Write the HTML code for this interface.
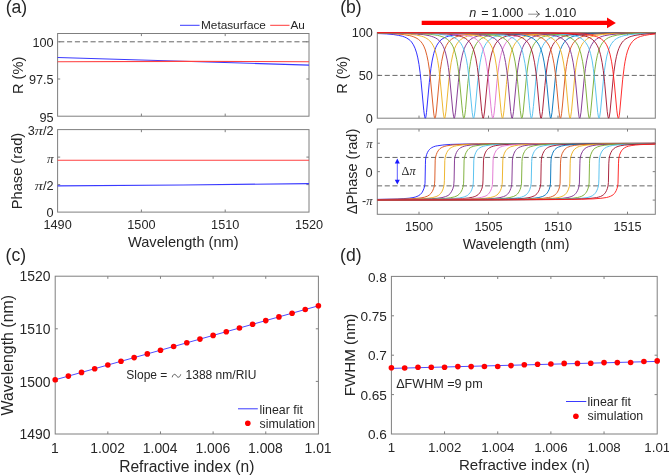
<!DOCTYPE html><html><head><meta charset="utf-8"><style>html,body{margin:0;padding:0;background:#fff;}svg{display:block;filter:blur(0.35px)}</style></head><body>
<svg width="669" height="476" viewBox="0 0 669 476">
<rect width="669" height="476" fill="#fff"/>
<text x="16.4" y="13.2" font-size="17.6" text-anchor="middle" fill="#262626" font-family='"Liberation Sans", sans-serif' >(a)</text>
<line x1="180" y1="25.3" x2="199.6" y2="25.3" stroke="#3a3aff" stroke-width="1"/>
<text x="201" y="29.3" font-size="11.8" text-anchor="start" fill="#262626" font-family='"Liberation Sans", sans-serif' >Metasurface</text>
<line x1="270.2" y1="25.3" x2="289.5" y2="25.3" stroke="#ff3a3a" stroke-width="1"/>
<text x="290.5" y="29.3" font-size="11.8" text-anchor="start" fill="#262626" font-family='"Liberation Sans", sans-serif' >Au</text>
<path d="M141.4,116.2 v-2.6 M141.4,33.5 v2.6" stroke="#7f7f7f" stroke-width="1" fill="none"/>
<path d="M225.2,116.2 v-2.6 M225.2,33.5 v2.6" stroke="#7f7f7f" stroke-width="1" fill="none"/>
<path d="M57.6,79 h2.6 M309,79 h-2.6" stroke="#7f7f7f" stroke-width="1" fill="none"/>
<path d="M57.6,41.8 h2.6 M309,41.8 h-2.6" stroke="#7f7f7f" stroke-width="1" fill="none"/>
<rect x="57.6" y="33.5" width="251.4" height="82.7" fill="none" stroke="#7f7f7f" stroke-width="1"/>
<line x1="57.6" y1="41.8" x2="309" y2="41.8" stroke="#666" stroke-width="1" stroke-dasharray="5.1 2.74" stroke-dashoffset="-1.6"/>
<path d="M57.6,57.5 309,65.1" fill="none" stroke="#3a3aff" stroke-width="1.1" stroke-linejoin="round" />
<path d="M57.6,61.7 183.3,61.4 249,61.5 309,61.8" fill="none" stroke="#ff4040" stroke-width="1.1" stroke-linejoin="round" />
<text x="53.6" y="47.15" font-size="12.7" text-anchor="end" fill="#262626" font-family='"Liberation Sans", sans-serif' >100</text>
<text x="53.6" y="84.35" font-size="12.7" text-anchor="end" fill="#262626" font-family='"Liberation Sans", sans-serif' >97.5</text>
<text x="53.6" y="121.55" font-size="12.7" text-anchor="end" fill="#262626" font-family='"Liberation Sans", sans-serif' >95</text>
<text x="0" y="0" font-size="14.6" text-anchor="middle" fill="#262626" font-family='"Liberation Sans", sans-serif' transform="translate(22.5,75.4) rotate(-90)">R (%)</text>
<path d="M141.4,212.1 v-2.6 M141.4,129.6 v2.6" stroke="#7f7f7f" stroke-width="1" fill="none"/>
<path d="M225.2,212.1 v-2.6 M225.2,129.6 v2.6" stroke="#7f7f7f" stroke-width="1" fill="none"/>
<path d="M57.6,184.6 h2.6 M309,184.6 h-2.6" stroke="#7f7f7f" stroke-width="1" fill="none"/>
<path d="M57.6,157.1 h2.6 M309,157.1 h-2.6" stroke="#7f7f7f" stroke-width="1" fill="none"/>
<rect x="57.6" y="129.6" width="251.4" height="82.5" fill="none" stroke="#7f7f7f" stroke-width="1"/>
<path d="M57.6,160.3 309,160.3" fill="none" stroke="#ff4040" stroke-width="1.1" stroke-linejoin="round" />
<path d="M57.6,185.9 183.3,185 309,183.6" fill="none" stroke="#3a3aff" stroke-width="1.1" stroke-linejoin="round" />
<text x="43.01" y="134.95" font-size="12.7" text-anchor="start" fill="#262626" font-family='"Liberation Sans", sans-serif' >/2</text>
<text x="0" y="0" font-size="12.7" fill="#333" font-family='"Liberation Serif", serif' font-style="italic" transform="translate(34.74,134.95) scale(1.3,1)">&#960;</text>
<text x="27.67" y="134.95" font-size="12.7" text-anchor="start" fill="#262626" font-family='"Liberation Sans", sans-serif' >3</text>
<text x="0" y="0" font-size="12.7" fill="#333" font-family='"Liberation Serif", serif' font-style="italic" transform="translate(46.92,162.75) scale(1.05,1)">&#960;</text>
<text x="43.01" y="189.95" font-size="12.7" text-anchor="start" fill="#262626" font-family='"Liberation Sans", sans-serif' >/2</text>
<text x="0" y="0" font-size="12.7" fill="#333" font-family='"Liberation Serif", serif' font-style="italic" transform="translate(34.74,189.95) scale(1.3,1)">&#960;</text>
<text x="53.6" y="217.45" font-size="12.7" text-anchor="end" fill="#262626" font-family='"Liberation Sans", sans-serif' >0</text>
<text x="0" y="0" font-size="14.6" text-anchor="middle" fill="#262626" font-family='"Liberation Sans", sans-serif' transform="translate(21.7,171) rotate(-90)">Phase (rad)</text>
<text x="57.6" y="228.6" font-size="12.7" text-anchor="middle" fill="#262626" font-family='"Liberation Sans", sans-serif' >1490</text>
<text x="141.4" y="228.6" font-size="12.7" text-anchor="middle" fill="#262626" font-family='"Liberation Sans", sans-serif' >1500</text>
<text x="225.2" y="228.6" font-size="12.7" text-anchor="middle" fill="#262626" font-family='"Liberation Sans", sans-serif' >1510</text>
<text x="309" y="228.6" font-size="12.7" text-anchor="middle" fill="#262626" font-family='"Liberation Sans", sans-serif' >1520</text>
<text x="183.3" y="246.6" font-size="14.6" text-anchor="middle" fill="#262626" font-family='"Liberation Sans", sans-serif' >Wavelength (nm)</text>
<text x="350.9" y="13.1" font-size="17.6" text-anchor="middle" fill="#262626" font-family='"Liberation Sans", sans-serif' >(b)</text>
<line x1="421.7" y1="22.9" x2="608" y2="22.9" stroke="#ff0000" stroke-width="4.2"/>
<path d="M607,17.6 L615.9,22.9 L607,28.2 Z" fill="#ff0000"/>
<text x="469.3" y="17.3" font-size="12.7" text-anchor="start" fill="#262626" font-family='"Liberation Sans", sans-serif' ><tspan font-style="italic">n</tspan></text>
<text x="481.2" y="17.3" font-size="12.7" text-anchor="start" fill="#262626" font-family='"Liberation Sans", sans-serif' >=</text>
<text x="491.6" y="17.3" font-size="12.7" text-anchor="start" fill="#262626" font-family='"Liberation Sans", sans-serif' >1.000</text>
<text x="544.6" y="17.3" font-size="12.7" text-anchor="start" fill="#262626" font-family='"Liberation Sans", sans-serif' >1.010</text>
<path d="M528.2,14.2 H539" stroke="#999" stroke-width="1.1" fill="none"/>
<path d="M536.3,10.8 Q537.3,13.4 539.6,14.2 Q537.3,15 536.3,17.3" stroke="#444" stroke-width="0.9" fill="none"/>
<path d="M419,118.2 v-2.6 M419,32.6 v2.6" stroke="#7f7f7f" stroke-width="1" fill="none"/>
<path d="M488.5,118.2 v-2.6 M488.5,32.6 v2.6" stroke="#7f7f7f" stroke-width="1" fill="none"/>
<path d="M558,118.2 v-2.6 M558,32.6 v2.6" stroke="#7f7f7f" stroke-width="1" fill="none"/>
<path d="M627.5,118.2 v-2.6 M627.5,32.6 v2.6" stroke="#7f7f7f" stroke-width="1" fill="none"/>
<path d="M377.3,75.4 h2.6 M655.3,75.4 h-2.6" stroke="#7f7f7f" stroke-width="1" fill="none"/>
<rect x="377.3" y="32.6" width="278" height="85.6" fill="none" stroke="#7f7f7f" stroke-width="1"/>
<line x1="377.3" y1="75.4" x2="655.3" y2="75.4" stroke="#666" stroke-width="1" stroke-dasharray="5.1 2.62" stroke-dashoffset="0.3"/>
<path d="M377.3,33.5 386.4,33.9 393.2,34.5 398.3,35.3 402.7,36.3 404.7,37.1 406.3,37.8 409.1,39.6 410.3,40.6 411.5,41.9 413.4,44.8 415,48.2 416.6,52.9 417.8,57.9 419,64.5 420.2,73.3 421,80.6 423.8,110.7 424.6,116.5 425,117.9 425.3,118.2 425.8,117.3 426.5,112.5 429.3,82.6 430.9,68.6 432.1,61 433.7,53.7 434.5,51 435.7,47.7 436.9,45.2 438.5,42.7 440,40.8 442,39.1 444,37.9 446.4,36.8 448.8,36.1 452,35.3 455.1,34.8 459.1,34.3 469,33.6 483.3,33.2 503.2,32.9 533,32.8 655.3,32.6" fill="none" stroke="#1f1fff" stroke-width="0.92" stroke-linejoin="round" />
<path d="M377.3,33.2 388.8,33.5 397.6,34 404.3,34.7 409.5,35.6 411.9,36.2 413.8,36.9 417,38.4 418.6,39.5 419.8,40.5 421,41.8 422.2,43.3 423.8,46.1 425.4,50 426.9,55.6 428.1,61.4 429.3,69.2 430.1,75.7 433.7,113.1 434.1,115.8 434.5,117.6 434.9,118.2 435.3,117.7 435.7,116.1 436.5,110 438.9,83.9 440.4,69.5 441.6,61.7 443.2,54.1 444,51.3 445.2,48 446.4,45.4 448,42.8 449.6,40.9 451.6,39.2 453.6,38 455.9,36.9 458.3,36.1 461.1,35.4 464.3,34.8 468.2,34.4 477.8,33.7 491.7,33.2 510.7,32.9 539.3,32.8 655.3,32.6" fill="none" stroke="#d95319" stroke-width="0.92" stroke-linejoin="round" />
<path d="M377.3,33 391.6,33.3 402.3,33.7 410.3,34.3 416.6,35.1 421.4,36.2 423.4,36.8 425.4,37.7 426.9,38.6 428.5,39.7 429.7,40.8 430.9,42.1 432.9,45.1 434.1,47.6 434.9,49.6 436.5,55.1 437.7,60.7 438.9,68.3 440,78.2 443.2,112.1 444,117.1 444.4,118.1 444.6,118.2 444.8,118 445.2,116.7 446,111.2 448.8,81 450,70.5 451.2,62.4 452.8,54.6 453.6,51.7 454.7,48.3 455.9,45.7 457.5,43 459.1,41.1 460.7,39.6 462.7,38.3 465.1,37.1 467.5,36.2 470.2,35.5 473.4,34.9 477,34.5 486.5,33.7 499.6,33.3 517.9,33 545.3,32.8 655.3,32.6" fill="none" stroke="#edb120" stroke-width="0.92" stroke-linejoin="round" />
<path d="M377.3,32.9 394.8,33.2 407.5,33.5 416.6,34 423.8,34.7 429.3,35.7 431.7,36.4 433.7,37.1 435.7,38 437.3,39 438.9,40.3 440,41.5 442,44.2 443.2,46.4 444,48.3 445.6,53.1 447.2,60.1 448.4,67.4 449.6,77.1 452.8,111 453.6,116.6 453.9,117.9 454.2,118.2 454.3,118.1 454.7,117.2 455.5,112.2 458.3,82.3 459.5,71.4 460.7,63.1 462.3,55.1 463.1,52.1 464.3,48.6 465.5,45.9 467.1,43.2 468.6,41.2 470.2,39.7 472.2,38.3 474.6,37.1 477,36.3 479.8,35.5 482.9,34.9 486.5,34.5 495.6,33.7 508.4,33.3 525.8,33 552,32.8 655.3,32.6" fill="none" stroke="#7e2f8e" stroke-width="0.92" stroke-linejoin="round" />
<path d="M377.3,32.9 397.6,33.1 412.2,33.3 423,33.8 430.9,34.4 437.3,35.3 439.7,35.9 442,36.6 444,37.4 445.6,38.2 447.2,39.2 448.8,40.5 450.4,42.3 451.6,44 452.8,46.2 453.6,48 455.1,52.6 456.7,59.4 457.9,66.6 459.1,76 461.9,105.9 462.7,113.3 463.1,116 463.5,117.6 463.9,118.2 464.3,117.6 464.7,115.9 465.5,109.7 467.8,83.5 469.4,69.3 470.6,61.5 471.8,55.6 472.6,52.6 473.8,48.9 475,46.1 476.6,43.4 478.2,41.3 479.8,39.8 481.7,38.4 483.7,37.4 486.1,36.4 488.5,35.8 491.7,35.1 495.3,34.6 504,33.8 516.3,33.3 533,33 558,32.8 655.3,32.7" fill="none" stroke="#77ac30" stroke-width="0.92" stroke-linejoin="round" />
<path d="M377.3,32.8 401.1,33 417.8,33.2 429.7,33.6 438.5,34.2 445.2,35 448,35.5 450.4,36.2 452.8,37 454.7,37.9 456.3,38.8 457.9,40.1 459.5,41.7 460.7,43.2 461.9,45.2 462.7,46.8 463.9,49.7 464.7,52.2 466.3,58.8 467.5,65.7 468.6,74.9 472.2,112.4 473,117.2 473.5,118.2 473.8,117.9 474.2,116.5 475,110.9 477.8,80.7 479,70.2 480.2,62.2 481.7,54.5 482.5,51.6 483.7,48.2 484.9,45.6 486.1,43.5 487.7,41.5 489.3,39.9 491.3,38.5 493.3,37.4 495.6,36.5 498,35.8 500.8,35.2 504.4,34.6 512.7,33.9 524.6,33.4 540.5,33 564,32.8 655.3,32.7" fill="none" stroke="#4dbeee" stroke-width="0.92" stroke-linejoin="round" />
<path d="M377.3,32.8 423.4,33.2 436.9,33.5 446.4,34 453.6,34.8 459.1,35.9 461.5,36.6 463.5,37.4 465.5,38.5 467.1,39.6 468.6,41.1 469.8,42.5 471,44.3 472.2,46.5 473.4,49.4 474.2,51.8 475.8,58.2 477.4,67.6 478.6,77.4 481.7,111.3 482.5,116.7 482.9,118 483.2,118.2 483.3,118.1 483.7,117.1 484.5,112 487.3,82 488.5,71.2 489.7,62.9 491.3,55 492.1,52 493.3,48.5 494.5,45.8 495.6,43.7 496.8,42.1 498.4,40.4 500.4,38.8 502.4,37.7 504.8,36.7 507.2,35.9 509.9,35.3 513.1,34.8 521.5,33.9 532.6,33.4 547.7,33.1 569.9,32.9 655.3,32.7" fill="none" stroke="#a2142f" stroke-width="0.92" stroke-linejoin="round" />
<path d="M377.3,32.7 428.9,33.1 443.6,33.4 453.9,33.9 461.9,34.6 467.8,35.7 470.2,36.3 472.6,37.2 474.6,38.2 476.2,39.2 477.8,40.6 479.4,42.3 480.6,44.1 481.7,46.2 482.9,49 483.7,51.4 485.3,57.6 486.9,66.8 488.1,76.3 490.9,106.2 491.7,113.6 492.1,116.1 492.5,117.7 492.8,118.2 493.3,117.5 493.7,115.7 494.1,113 494.9,105.4 496.8,83.2 498,72.2 499.2,63.7 500.8,55.5 501.6,52.5 502.8,48.8 504,46.1 505.2,43.9 506.4,42.2 508,40.5 509.5,39.2 511.5,37.9 513.5,37 515.9,36.2 518.7,35.5 521.9,34.9 529.4,34.1 540.1,33.5 554.4,33.1 575.5,32.9 655.3,32.7" fill="none" stroke="#e070d0" stroke-width="0.92" stroke-linejoin="round" />
<path d="M377.3,32.7 434.1,33 450,33.3 461.5,33.8 470.2,34.5 476.6,35.5 479,36.1 481.4,36.8 483.3,37.7 485.3,38.9 486.9,40.1 488.5,41.7 489.7,43.3 490.9,45.2 492.1,47.7 492.9,49.8 494.1,53.7 494.9,57 496.4,65.9 497.6,75.2 501.2,112.6 502,117.4 502.5,118.2 502.8,117.8 503.2,116.4 504,110.6 506.4,84.5 508,70 509.2,62 510.3,56 511.1,52.9 512.3,49.2 513.5,46.3 514.7,44.1 515.9,42.4 517.5,40.6 519.1,39.3 521.1,38 523.1,37.1 525.4,36.2 528.2,35.5 531,35 538.5,34.1 548.5,33.5 562.4,33.2 581.8,32.9 655.3,32.7" fill="none" stroke="#edb120" stroke-width="0.92" stroke-linejoin="round" />
<path d="M377.3,32.7 440,33 457.1,33.3 469.4,33.7 478.6,34.3 485.3,35.3 488.1,35.9 490.5,36.6 492.5,37.5 494.5,38.5 496,39.7 497.6,41.1 499.2,43.1 500.4,45 501.6,47.4 502.4,49.5 503.6,53.3 504.4,56.5 505.6,62.6 506.8,70.8 508,81.5 510.7,111.6 511.5,116.9 511.9,118 512.1,118.2 512.3,118.1 512.7,116.9 513.5,111.7 516.3,81.7 517.5,70.9 518.7,62.7 519.9,56.6 520.7,53.3 521.9,49.5 522.7,47.5 523.8,45 525,43.1 526.6,41.1 528.2,39.7 530.2,38.3 532.2,37.3 534.2,36.5 537,35.7 539.7,35.1 546.9,34.2 556.4,33.6 569.5,33.2 587.8,32.9 655.3,32.7" fill="none" stroke="#7e2f8e" stroke-width="0.92" stroke-linejoin="round" />
<path d="M377.3,32.7 445.6,32.9 463.9,33.2 477,33.6 486.9,34.2 494.1,35.1 496.8,35.7 499.6,36.5 501.6,37.2 503.6,38.2 505.6,39.6 507.2,41 508.8,42.9 509.9,44.8 511.1,47.2 511.9,49.1 513.1,52.8 513.9,56 515.1,61.9 516.3,69.9 517.9,84.3 520.3,110.5 521.1,116.3 521.5,117.8 521.8,118.2 522.3,117.4 523.1,112.7 526.6,75.3 527.8,66 529.4,57.1 530.2,53.8 531.4,49.9 532.2,47.8 533.4,45.2 534.6,43.3 536.2,41.3 537.7,39.8 539.3,38.6 541.3,37.5 543.3,36.7 545.7,36 548.5,35.3 555.2,34.3 564.4,33.7 576.3,33.3 593.3,33 655.3,32.7" fill="none" stroke="#77ac30" stroke-width="0.92" stroke-linejoin="round" />
<path d="M377.3,32.7 451.6,32.9 471.4,33.1 485.3,33.5 495.6,34.1 503.2,35 506,35.6 508.8,36.3 511.1,37.2 513.1,38.1 515.1,39.5 516.7,40.9 518.3,42.7 519.5,44.6 520.7,46.9 521.5,48.8 522.7,52.4 523.4,55.4 525,63.6 526.2,72.1 527.4,83.1 529.4,105.2 530.2,112.9 530.6,115.6 531,117.5 531.4,118.2 531.8,117.8 532.2,116.2 532.6,113.7 533.4,106.4 536.2,76.4 537.3,66.9 538.9,57.7 539.7,54.3 540.9,50.2 541.7,48.1 542.9,45.5 544.1,43.5 545.3,41.9 546.9,40.2 548.5,39 550.5,37.8 552.4,36.9 554.8,36.1 557.2,35.5 563.6,34.5 571.9,33.8 583,33.3 598.9,33 655.3,32.7" fill="none" stroke="#4dbeee" stroke-width="0.92" stroke-linejoin="round" />
<path d="M377.3,32.7 457.5,32.9 478.6,33.1 493.3,33.5 504,34 511.9,34.9 515.1,35.5 517.9,36.1 520.3,37 522.3,37.9 524.2,39.1 525.8,40.4 527.4,42.1 528.6,43.7 529.8,45.8 531,48.5 532.2,52 533,54.9 534.6,62.8 535.8,71.1 537,81.8 539.7,111.8 540.5,117 540.9,118.1 541.1,118.2 541.3,118 541.7,116.8 542.5,111.4 544.9,85.5 546.1,74 547.3,65 548.5,58.3 550.1,51.8 550.9,49.4 552,46.5 553.2,44.3 554.4,42.5 556,40.7 557.6,39.3 559.2,38.3 561.2,37.3 563.6,36.4 565.9,35.7 568.7,35.1 571.9,34.6 579.8,33.9 590.2,33.4 604.9,33.1 655.3,32.8" fill="none" stroke="#a2142f" stroke-width="0.92" stroke-linejoin="round" />
<path d="M377.3,32.7 463.5,32.9 485.7,33.1 501.2,33.4 512.3,33.9 520.7,34.7 523.8,35.3 526.6,35.9 529,36.6 531.4,37.6 533.4,38.7 535.4,40.3 537,41.9 538.5,44.2 539.7,46.4 540.9,49.2 542.1,52.9 542.9,56.1 544.1,62.1 545.3,70.1 546.9,84.7 549.3,110.8 550.1,116.5 550.5,117.9 550.8,118.2 551.2,117.3 552,112.5 555.6,75 556.8,65.8 558,58.9 559.6,52.2 560.4,49.8 561.6,46.8 562.8,44.5 564,42.7 565.1,41.2 566.7,39.7 568.3,38.6 569.9,37.7 571.9,36.8 574.3,36.1 577.1,35.4 579.8,34.9 587.4,34.1 596.9,33.5 610,33.2 655.3,32.8" fill="none" stroke="#0072bd" stroke-width="0.92" stroke-linejoin="round" />
<path d="M377.3,32.7 469.8,32.8 493.3,33 509.5,33.4 521.5,33.9 529.8,34.7 533.4,35.2 536.2,35.9 538.5,36.6 540.9,37.5 542.9,38.6 544.9,40.1 546.5,41.8 548.1,44 549.3,46.1 550.5,48.9 551.6,52.5 552.4,55.6 554,63.8 555.2,72.3 556.4,83.4 558.8,109.6 559.6,115.8 560,117.6 560.4,118.2 560.8,117.7 561.2,116.1 561.6,113.4 562.4,106 565.1,76.1 566.3,66.6 567.5,59.5 569.1,52.7 569.9,50.1 571.1,47.1 571.9,45.4 573.1,43.4 574.3,41.8 575.9,40.2 577.5,38.9 579,38 581,37 583,36.3 585.4,35.7 588.2,35.1 594.9,34.2 603.7,33.7 615.6,33.2 631.9,33 655.3,32.8" fill="none" stroke="#d95319" stroke-width="0.92" stroke-linejoin="round" />
<path d="M377.3,32.7 475.8,32.8 500.4,33 517.5,33.3 529.8,33.8 538.5,34.6 542.1,35.1 545.3,35.7 547.7,36.4 550.1,37.3 552,38.3 554,39.7 555.6,41.2 557.2,43.2 558.8,45.9 560,48.6 561.2,52.1 562,55.1 563.6,63 564.8,71.3 565.9,82.1 568.7,112.1 569.5,117.1 569.9,118.1 570.1,118.2 570.3,118 570.7,116.7 571.5,111.2 574.7,77.2 575.9,67.5 577.1,60.1 578.7,53.1 580.2,48.3 581,46.5 582.2,44.2 583.4,42.5 585,40.7 586.6,39.3 588.2,38.3 589.8,37.4 591.8,36.6 594.1,35.9 596.5,35.4 602.5,34.5 610.4,33.8 620.7,33.4 635,33.1 655.3,32.9" fill="none" stroke="#edb120" stroke-width="0.92" stroke-linejoin="round" />
<path d="M377.3,32.6 481.7,32.8 508,33 525.4,33.3 538.1,33.7 547.3,34.5 550.9,34.9 554,35.5 556.8,36.2 559.2,37.1 561.6,38.3 563.6,39.6 565.1,41.1 566.7,43 568.3,45.6 569.5,48.3 570.7,51.7 571.5,54.6 573.1,62.3 574.3,70.4 575.5,80.9 578.3,111 579,116.6 579.4,117.9 579.7,118.2 579.8,118.1 580.2,117.2 581,112.2 584.2,78.4 585.4,68.4 586.6,60.8 588.2,53.6 589.8,48.6 590.6,46.7 591.8,44.4 593.7,41.6 594.9,40.4 596.5,39.1 598.1,38.1 600.1,37.1 602.1,36.4 604.5,35.7 609.6,34.8 616.8,34 625.9,33.5 638.2,33.2 655.3,32.9" fill="none" stroke="#7e2f8e" stroke-width="0.92" stroke-linejoin="round" />
<path d="M377.3,32.6 488.1,32.8 515.5,33 533.8,33.2 546.9,33.7 556.4,34.4 560.4,34.9 563.6,35.5 566.3,36.2 568.7,37 571.1,38.2 573.1,39.5 574.7,40.9 576.3,42.8 577.9,45.4 579,48 580.2,51.3 581,54.1 582.6,61.6 583.8,69.4 585.4,83.7 587.8,109.9 588.6,116 589,117.6 589.4,118.2 589.8,117.6 590.2,115.9 590.6,113.2 594.1,75.8 594.9,69.3 596.1,61.5 597.3,55.6 598.9,50 599.7,47.9 600.9,45.4 601.7,44 602.9,42.3 604.1,40.9 605.3,39.8 606.8,38.7 608.4,37.7 610.4,36.9 612.4,36.2 617.2,35.1 623.1,34.3 631.1,33.7 641.4,33.3 655.3,33.1" fill="none" stroke="#77ac30" stroke-width="0.92" stroke-linejoin="round" />
<path d="M377.3,32.6 494.1,32.8 522.7,32.9 541.7,33.2 555.6,33.6 565.5,34.3 569.5,34.8 572.7,35.4 575.5,36 577.9,36.8 580.2,37.9 582.2,39.1 584.2,40.8 585.8,42.7 587.4,45.2 588.6,47.7 589.8,50.9 590.6,53.6 592.2,60.9 593.3,68.5 594.9,82.4 597.7,112.4 598.5,117.3 599,118.2 599.3,117.9 599.7,116.5 600.5,110.9 603.7,76.9 604.5,70.2 605.7,62.2 606.8,56.1 608.4,50.4 610,46.4 611.6,43.5 613.6,41 614.8,39.9 616.4,38.7 618,37.8 619.6,37.1 621.5,36.4 623.9,35.7 629.1,34.7 635.4,34.1 643.8,33.6 655.3,33.2" fill="none" stroke="#4dbeee" stroke-width="0.92" stroke-linejoin="round" />
<path d="M377.3,32.6 500.8,32.8 530.6,32.9 550.5,33.2 564.8,33.6 574.7,34.3 578.7,34.8 581.8,35.3 585,36 587.4,36.8 589.8,37.8 592.2,39.3 594.1,41.1 595.7,43 597.3,45.7 598.5,48.3 599.7,51.8 600.5,54.7 602.1,62.5 603.3,70.6 604.5,81.2 607.2,111.3 608,116.8 608.4,118 608.7,118.2 608.8,118.1 609.2,117.1 610,112 613.2,78.1 614,71.2 615.2,62.9 616.4,56.7 617.6,52 618.8,48.5 620.4,45.1 622.3,42.1 623.5,40.8 624.7,39.7 625.9,38.8 627.5,37.9 629.1,37.1 631.1,36.4 635,35.4 640.2,34.6 647,33.9 655.3,33.5" fill="none" stroke="#a2142f" stroke-width="0.92" stroke-linejoin="round" />
<path d="M377.3,32.6 506.4,32.8 537.3,32.9 558,33.1 573.1,33.6 583.4,34.2 587.4,34.6 591,35.2 593.7,35.8 596.5,36.6 598.9,37.6 601.3,39 603.3,40.6 604.9,42.3 606.5,44.7 607.6,47.1 608.8,50.2 610,54.2 611.6,61.8 612.8,69.7 614.4,84 616.8,110.2 617.6,116.2 618,117.7 618.3,118.2 618.8,117.5 619.2,115.7 619.6,113 622.7,79.2 624.3,66.2 625.1,61.3 626.3,55.5 627.5,51.1 629.1,46.9 630.7,43.9 632.7,41.3 633.9,40.1 635,39.2 637.4,37.7 640.6,36.4 644.6,35.4 649.3,34.6 655.3,34" fill="none" stroke="#ff1a1a" stroke-width="0.92" stroke-linejoin="round" />
<text x="372.8" y="37.35" font-size="12.7" text-anchor="end" fill="#262626" font-family='"Liberation Sans", sans-serif' >100</text>
<text x="372.8" y="80.15" font-size="12.7" text-anchor="end" fill="#262626" font-family='"Liberation Sans", sans-serif' >50</text>
<text x="372.8" y="122.95" font-size="12.7" text-anchor="end" fill="#262626" font-family='"Liberation Sans", sans-serif' >0</text>
<text x="0" y="0" font-size="14.6" text-anchor="middle" fill="#262626" font-family='"Liberation Sans", sans-serif' transform="translate(346.8,75.1) rotate(-90)">R (%)</text>
<path d="M419,214.3 v-2.6 M419,129 v2.6" stroke="#7f7f7f" stroke-width="1" fill="none"/>
<path d="M488.5,214.3 v-2.6 M488.5,129 v2.6" stroke="#7f7f7f" stroke-width="1" fill="none"/>
<path d="M558,214.3 v-2.6 M558,129 v2.6" stroke="#7f7f7f" stroke-width="1" fill="none"/>
<path d="M627.5,214.3 v-2.6 M627.5,129 v2.6" stroke="#7f7f7f" stroke-width="1" fill="none"/>
<path d="M377.3,143.22 h2.6 M655.3,143.22 h-2.6" stroke="#7f7f7f" stroke-width="1" fill="none"/>
<path d="M377.3,171.65 h2.6 M655.3,171.65 h-2.6" stroke="#7f7f7f" stroke-width="1" fill="none"/>
<path d="M377.3,200.08 h2.6 M655.3,200.08 h-2.6" stroke="#7f7f7f" stroke-width="1" fill="none"/>
<rect x="377.3" y="129" width="278" height="85.3" fill="none" stroke="#7f7f7f" stroke-width="1"/>
<line x1="377.3" y1="157.43" x2="655.3" y2="157.43" stroke="#666" stroke-width="1" stroke-dasharray="5.1 2.62" stroke-dashoffset="0.3"/>
<line x1="377.3" y1="185.87" x2="655.3" y2="185.87" stroke="#666" stroke-width="1" stroke-dasharray="5.1 2.62" stroke-dashoffset="0.3"/>
<path d="M377.3,199.4 397.2,199 403.9,198.6 409.1,198.2 413,197.6 415.8,196.9 418.2,195.9 420.2,194.6 421.8,192.9 422.9,191 424,188.3 424.7,185.6 425,183.4 425.1,180.1 425.4,164.8 425.5,160.1 425.9,157.3 426.6,154.6 427.5,152.4 428.5,150.7 429.3,149.7 430.5,148.5 431.7,147.7 433.3,146.9 435.3,146.2 437.3,145.8 442.8,145 450.8,144.4 462.3,144.1 478.6,143.8 536.2,143.5 655.3,143.4" fill="none" stroke="#1f1fff" stroke-width="0.92" stroke-linejoin="round" />
<path d="M377.3,199.5 401.9,199.1 409.9,198.8 416.2,198.4 421,197.9 424.6,197.2 427.3,196.2 429.3,195 430.9,193.5 432.4,191.3 433.6,188.5 434.4,185.6 434.6,183.2 434.8,180.1 435.2,160.1 435.5,157.3 436.3,154.6 437.1,152.6 438.1,150.9 438.9,149.8 440,148.6 441.2,147.8 442.8,147 444.8,146.3 446.8,145.8 452.4,145 459.9,144.5 471,144.1 486.5,143.8 541.7,143.5 655.3,143.4" fill="none" stroke="#d95319" stroke-width="0.92" stroke-linejoin="round" />
<path d="M377.3,199.6 407.1,199.3 416.6,199 423.8,198.6 428.9,198.1 432.9,197.5 436.1,196.6 438.5,195.4 439.7,194.5 440.4,193.7 441.8,191.8 443.1,188.9 443.9,186 444.2,184 444.4,180.3 444.8,160.5 445.2,157.3 446,154.4 446.8,152.6 447.6,151.1 448.8,149.5 450,148.4 451.2,147.6 452.8,146.8 454.7,146.2 456.7,145.7 462.3,145 469.8,144.4 480.6,144.1 495.6,143.8 548.5,143.5 655.3,143.4" fill="none" stroke="#edb120" stroke-width="0.92" stroke-linejoin="round" />
<path d="M377.3,199.7 412.6,199.3 423.8,199.1 431.7,198.7 437.7,198.2 442,197.6 445.6,196.6 448,195.5 449.2,194.6 450,193.8 451.4,191.8 452.8,188.9 453.6,186 453.9,183.2 454.1,180.1 454.5,160.1 454.9,157 455.7,154.4 456.5,152.4 457.5,150.7 458.3,149.6 459.5,148.5 460.7,147.7 462.3,146.9 464.3,146.2 466.3,145.7 471.4,145 479,144.5 489.3,144.1 504,143.8 554.4,143.5 655.3,143.4" fill="none" stroke="#7e2f8e" stroke-width="0.92" stroke-linejoin="round" />
<path d="M377.3,199.7 417.4,199.4 429.7,199.2 438.9,198.8 445.6,198.4 450.8,197.7 454.3,196.9 457.1,195.8 459.1,194.3 460.7,192.4 461.5,191 462.2,189.5 462.8,187.6 463.2,186 463.6,183.2 463.7,180.1 464.1,160.1 464.6,157 465.4,154.2 466.2,152.4 467.1,150.9 467.8,149.8 469,148.6 470.2,147.7 471.8,146.9 473.8,146.2 475.8,145.8 481,145 488.1,144.5 498,144.1 512.3,143.9 560.4,143.5 655.3,143.4" fill="none" stroke="#77ac30" stroke-width="0.92" stroke-linejoin="round" />
<path d="M377.3,199.8 422.2,199.5 436.1,199.3 446.4,198.9 453.6,198.5 459.1,198 463.1,197.2 464.7,196.7 466.3,196 467.5,195.4 468.6,194.4 470.2,192.6 471,191.3 471.7,189.8 472.3,188.1 472.8,186.3 473.2,184 473.4,180.1 473.8,160.1 474.2,157.1 475.1,154.2 475.8,152.5 476.6,151 477.4,149.9 478.6,148.7 479.8,147.8 481.4,147 483.3,146.3 485.3,145.8 490.5,145 497.2,144.5 506.8,144.2 520.3,143.9 565.9,143.6 655.3,143.4" fill="none" stroke="#4dbeee" stroke-width="0.92" stroke-linejoin="round" />
<path d="M377.3,199.8 427.7,199.5 443.2,199.3 454.3,199 462.3,198.6 468.2,198 472.6,197.2 474.2,196.7 475.8,196.1 477,195.4 478.2,194.6 479.8,192.8 480.6,191.4 481.4,189.8 482,188.1 482.5,186.3 482.8,184 483,180.1 483.5,160.1 483.9,157 484.8,154 485.6,152.1 486.5,150.6 487.3,149.6 488.5,148.5 489.7,147.7 491.3,146.9 493.3,146.2 495.3,145.7 500,145 506.8,144.5 516.3,144.2 529.4,143.9 572.3,143.6 655.3,143.4" fill="none" stroke="#a2142f" stroke-width="0.92" stroke-linejoin="round" />
<path d="M377.3,199.8 432.9,199.6 461.9,199.1 470.6,198.7 477,198.1 481.7,197.3 484.9,196.3 486.1,195.8 487.3,195 488.5,193.9 489.3,193 490.1,191.7 490.9,190.1 491.6,188.3 492.1,186.6 492.4,184.6 492.6,182 493.1,160.1 493.5,157 494.5,153.8 495.3,152.2 496,150.8 496.8,149.7 498,148.6 499.2,147.7 500.8,146.9 502.8,146.2 504.8,145.8 509.5,145.1 515.9,144.6 525,144.2 537.3,143.9 577.9,143.6 655.3,143.4" fill="none" stroke="#e070d0" stroke-width="0.92" stroke-linejoin="round" />
<path d="M377.3,199.8 438.1,199.6 469.4,199.1 479,198.8 485.7,198.2 490.5,197.5 494.1,196.6 495.6,195.8 496.8,195.1 498,194 498.8,193.1 499.7,191.8 500.5,190.3 501.2,188.5 501.7,186.6 502.1,184.6 502.3,182 502.8,160.1 503.2,156.9 504.2,153.8 505,152 506,150.4 506.8,149.4 508,148.4 509.2,147.6 510.7,146.8 514.3,145.8 518.7,145.1 525,144.6 533.8,144.2 545.3,143.9 583.4,143.6 655.3,143.4" fill="none" stroke="#edb120" stroke-width="0.92" stroke-linejoin="round" />
<path d="M377.3,199.9 443.6,199.6 477.4,199.2 487.7,198.8 494.9,198.3 500,197.6 503.6,196.6 505.2,195.9 506.4,195.2 507.6,194.2 508.4,193.3 509.4,191.8 510.1,190.3 510.8,188.5 511.4,186.6 511.7,184.6 511.9,181.9 512.4,160.1 512.9,156.7 513.9,153.7 514.6,152 515.5,150.6 516.3,149.6 517.5,148.4 518.7,147.6 520.3,146.9 522.3,146.2 524.2,145.7 528.6,145.1 535,144.6 542.9,144.2 554,144 589.8,143.6 655.3,143.4" fill="none" stroke="#7e2f8e" stroke-width="0.92" stroke-linejoin="round" />
<path d="M377.3,199.9 444,199.7 480.2,199.3 491.3,199.1 499.6,198.7 505.6,198.2 509.9,197.5 513.5,196.5 515.1,195.7 516.3,195 517.5,193.9 518.3,192.9 519.3,191.3 520.1,189.5 521.1,186.4 521.5,183.2 522,161.3 522.2,158.7 522.6,156.7 523.1,154.8 523.8,153 524.6,151.5 525.4,150.2 526.2,149.3 527.4,148.2 528.6,147.5 530.2,146.8 533.8,145.8 538.9,145 546.1,144.5 556,144.1 589.4,143.7 655.3,143.5" fill="none" stroke="#77ac30" stroke-width="0.92" stroke-linejoin="round" />
<path d="M377.3,199.9 449.6,199.7 488.1,199.4 499.6,199.1 508.4,198.7 514.7,198.2 519.5,197.5 521.5,197.1 523.4,196.4 525,195.6 526.2,194.7 527.4,193.6 528.2,192.5 529,191.2 529.8,189.5 530.7,186.3 531.2,183.2 531.7,161.3 531.9,158.7 532.2,156.7 532.7,155 533.4,153.2 534.2,151.6 535,150.4 535.8,149.4 537,148.3 538.1,147.5 539.7,146.8 543.3,145.8 548.1,145.1 554.8,144.5 564.4,144.2 595.3,143.7 655.3,143.5" fill="none" stroke="#4dbeee" stroke-width="0.92" stroke-linejoin="round" />
<path d="M377.3,199.9 455.1,199.7 496,199.4 508.4,199.1 517.5,198.8 524.2,198.3 529,197.6 531,197.1 533,196.4 534.6,195.7 535.8,194.8 537,193.7 537.7,192.7 538.7,191.2 539.4,189.5 540.4,186.3 540.8,183.2 541.2,163.2 541.4,159.3 541.8,157 542.3,155.2 542.9,153.5 543.7,151.9 544.5,150.5 545.3,149.5 546.5,148.4 547.7,147.6 548.9,147 552,146 556.8,145.2 563.2,144.6 571.5,144.2 583.4,144 600.1,143.7 655.3,143.5" fill="none" stroke="#a2142f" stroke-width="0.92" stroke-linejoin="round" />
<path d="M377.3,199.9 461.9,199.7 505.2,199.4 518.3,199.1 527.4,198.8 534.2,198.2 538.9,197.5 542.5,196.5 544.1,195.7 545.3,194.9 546.5,193.8 547.3,192.9 548.2,191.3 549.2,189.3 550.1,186.3 550.5,183.2 550.9,163.2 551.1,159.3 551.4,157 552.5,153.7 553.2,152 554,150.7 554.8,149.7 556,148.5 557.2,147.7 558.4,147.1 561.6,146 565.9,145.2 571.9,144.7 579.8,144.3 606.1,143.8 655.3,143.5" fill="none" stroke="#0072bd" stroke-width="0.92" stroke-linejoin="round" />
<path d="M377.3,199.9 467.5,199.7 513.1,199.4 526.6,199.2 536.6,198.8 543.3,198.3 548.5,197.5 550.5,197.1 552.4,196.4 554,195.6 555.2,194.7 556.4,193.5 557.2,192.5 558.1,190.9 558.9,189.1 559.7,186.3 560.1,183.2 560.5,163.2 560.8,159.3 561.1,157 562.1,153.7 563.6,150.9 565.1,149 566.3,148 567.5,147.3 570.3,146.3 574.3,145.4 579.8,144.8 587,144.4 596.9,144.1 610.8,143.8 655.3,143.5" fill="none" stroke="#d95319" stroke-width="0.92" stroke-linejoin="round" />
<path d="M377.3,199.9 473.4,199.8 521.5,199.4 535.8,199.2 545.7,198.8 552.8,198.3 558,197.6 560,197.1 562,196.4 563.6,195.6 564.8,194.8 565.9,193.7 566.7,192.7 567.7,191 568.5,189.1 569.4,186.3 569.8,183.2 570.2,163.2 570.3,160.1 570.7,157.3 571.7,154 573.1,151.1 574.7,149.1 576.7,147.6 577.9,147 579.4,146.4 583,145.6 587.8,145 594.5,144.5 603.7,144.1 616,143.9 655.3,143.6" fill="none" stroke="#edb120" stroke-width="0.92" stroke-linejoin="round" />
<path d="M377.3,199.9 479.4,199.8 530.2,199.5 544.9,199.2 555.2,198.8 562.8,198.3 567.9,197.5 569.9,197 571.9,196.3 573.5,195.5 574.7,194.6 575.9,193.3 576.7,192.2 577.5,190.7 578.3,188.9 579,186.1 579.4,183 579.9,163.2 580,160.1 580.3,157.3 581.2,154.2 582.6,151.3 584.2,149.2 585,148.5 586.2,147.7 588.6,146.6 592.2,145.7 596.5,145 602.5,144.6 610.4,144.2 621.1,144 655.3,143.6" fill="none" stroke="#7e2f8e" stroke-width="0.92" stroke-linejoin="round" />
<path d="M377.3,199.9 485.3,199.8 538.5,199.5 554,199.2 564.8,198.8 572.3,198.3 577.5,197.5 579.4,197 581.4,196.4 583,195.5 584.2,194.7 585.4,193.5 586.2,192.4 587.1,190.9 587.9,188.9 588.7,186.3 589.1,183.2 589.5,163.2 589.6,160.1 589.9,157.7 590.8,154.6 592,151.8 593.3,149.8 594.1,148.9 595.3,148 597.7,146.8 600.9,145.9 604.9,145.2 610,144.7 617.2,144.3 626.3,144.1 655.3,143.7" fill="none" stroke="#77ac30" stroke-width="0.92" stroke-linejoin="round" />
<path d="M377.3,199.9 491.3,199.8 546.9,199.5 562.8,199.2 573.9,198.8 581.4,198.3 587,197.6 589,197.1 591,196.4 592.6,195.6 593.7,194.8 594.9,193.6 595.7,192.6 596.7,190.9 597.6,188.7 598.4,186 598.7,183.2 598.9,179.1 599.2,163.2 599.3,160 599.6,157.7 600.3,154.8 601.5,152 602.9,149.9 604.5,148.4 606.5,147.2 609.2,146.2 612.8,145.4 617.2,144.9 623.1,144.5 631.1,144.2 655.3,143.8" fill="none" stroke="#4dbeee" stroke-width="0.92" stroke-linejoin="round" />
<path d="M377.3,199.9 497.2,199.8 555.2,199.5 571.5,199.2 583,198.9 591,198.3 596.5,197.6 598.5,197.1 600.5,196.5 602.1,195.7 603.3,194.9 604.5,193.8 605.7,192.2 606.5,190.6 607.3,188.7 608,186 608.4,182.5 608.8,163.2 609.2,158.2 609.8,155.4 610.9,152.6 612,150.6 613.6,148.8 615.6,147.4 618,146.4 620.7,145.7 624.7,145.1 629.9,144.7 636.2,144.3 655.3,143.9" fill="none" stroke="#a2142f" stroke-width="0.92" stroke-linejoin="round" />
<path d="M377.3,200 504.4,199.8 564.4,199.5 581.4,199.2 592.9,198.9 600.9,198.3 606.5,197.5 608.4,197 610.4,196.3 612,195.5 613.2,194.7 614.4,193.5 615.2,192.4 616.2,190.6 617,188.5 617.7,186 618,183.2 618.5,163.2 618.8,158.2 619.4,155.7 620.3,153 621.5,150.8 622.7,149.3 624.3,148 626.3,146.9 628.7,146.1 631.9,145.5 635.8,145 640.6,144.6 655.3,144.1" fill="none" stroke="#ff1a1a" stroke-width="0.92" stroke-linejoin="round" />
<text x="0" y="0" font-size="12.7" fill="#333" font-family='"Liberation Serif", serif' font-style="italic" transform="translate(366.14,148.26) scale(1.0,1)">&#960;</text>
<text x="372.6" y="176.6" font-size="12.7" text-anchor="end" fill="#262626" font-family='"Liberation Sans", sans-serif' >0</text>
<text x="0" y="0" font-size="12.7" fill="#333" font-family='"Liberation Serif", serif' font-style="italic" transform="translate(366.14,205.13) scale(1.0,1)">&#960;</text>
<text x="361.91" y="205.13" font-size="12.7" text-anchor="start" fill="#262626" font-family='"Liberation Sans", sans-serif' >-</text>
<text x="0" y="0" font-size="14.5" text-anchor="middle" fill="#262626" font-family='"Liberation Sans", sans-serif' transform="translate(356.5,171.5) rotate(-90)">&#916;Phase (rad)</text>
<line x1="397.3" y1="162" x2="397.3" y2="181" stroke="#5a5aff" stroke-width="1"/>
<path d="M394.8,163.4 L397.3,158.6 L399.8,163.4 Z M394.8,179.7 L397.3,184.5 L399.8,179.7 Z" fill="#1a1aff"/>
<text x="401.5" y="175.2" font-size="12.3" text-anchor="start" fill="#262626" font-family='"Liberation Sans", sans-serif' ><tspan font-family='"Liberation Serif", serif'>&#916;</tspan><tspan font-family='"Liberation Serif", serif' font-style="italic">&#960;</tspan></text>
<text x="419" y="230.8" font-size="12.7" text-anchor="middle" fill="#262626" font-family='"Liberation Sans", sans-serif' >1500</text>
<text x="488.5" y="230.8" font-size="12.7" text-anchor="middle" fill="#262626" font-family='"Liberation Sans", sans-serif' >1505</text>
<text x="558" y="230.8" font-size="12.7" text-anchor="middle" fill="#262626" font-family='"Liberation Sans", sans-serif' >1510</text>
<text x="627.5" y="230.8" font-size="12.7" text-anchor="middle" fill="#262626" font-family='"Liberation Sans", sans-serif' >1515</text>
<text x="516.1" y="248.8" font-size="14.1" text-anchor="middle" fill="#262626" font-family='"Liberation Sans", sans-serif' >Wavelength (nm)</text>
<text x="15.8" y="261.3" font-size="17.6" text-anchor="middle" fill="#262626" font-family='"Liberation Sans", sans-serif' >(c)</text>
<path d="M107.84,434 v-2.6 M107.84,276.2 v2.6" stroke="#7f7f7f" stroke-width="1" fill="none"/>
<path d="M160.48,434 v-2.6 M160.48,276.2 v2.6" stroke="#7f7f7f" stroke-width="1" fill="none"/>
<path d="M213.12,434 v-2.6 M213.12,276.2 v2.6" stroke="#7f7f7f" stroke-width="1" fill="none"/>
<path d="M265.76,434 v-2.6 M265.76,276.2 v2.6" stroke="#7f7f7f" stroke-width="1" fill="none"/>
<path d="M55.2,381.4 h2.6 M318.4,381.4 h-2.6" stroke="#7f7f7f" stroke-width="1" fill="none"/>
<path d="M55.2,328.8 h2.6 M318.4,328.8 h-2.6" stroke="#7f7f7f" stroke-width="1" fill="none"/>
<rect x="55.2" y="276.2" width="263.2" height="157.8" fill="none" stroke="#7f7f7f" stroke-width="1"/>
<path d="M55.2,379.8 318.4,305.8" fill="none" stroke="#4d4dff" stroke-width="1.0" stroke-linejoin="round" />
<circle cx="55.2" cy="379.8" r="2.8" fill="#ff0000"/>
<circle cx="68.36" cy="376.1" r="2.8" fill="#ff0000"/>
<circle cx="81.52" cy="372.4" r="2.8" fill="#ff0000"/>
<circle cx="94.68" cy="368.7" r="2.8" fill="#ff0000"/>
<circle cx="107.84" cy="365" r="2.8" fill="#ff0000"/>
<circle cx="121" cy="361.3" r="2.8" fill="#ff0000"/>
<circle cx="134.16" cy="357.6" r="2.8" fill="#ff0000"/>
<circle cx="147.32" cy="353.9" r="2.8" fill="#ff0000"/>
<circle cx="160.48" cy="350.2" r="2.8" fill="#ff0000"/>
<circle cx="173.64" cy="346.5" r="2.8" fill="#ff0000"/>
<circle cx="186.8" cy="342.8" r="2.8" fill="#ff0000"/>
<circle cx="199.96" cy="339.1" r="2.8" fill="#ff0000"/>
<circle cx="213.12" cy="335.4" r="2.8" fill="#ff0000"/>
<circle cx="226.28" cy="331.7" r="2.8" fill="#ff0000"/>
<circle cx="239.44" cy="328" r="2.8" fill="#ff0000"/>
<circle cx="252.6" cy="324.3" r="2.8" fill="#ff0000"/>
<circle cx="265.76" cy="320.6" r="2.8" fill="#ff0000"/>
<circle cx="278.92" cy="316.9" r="2.8" fill="#ff0000"/>
<circle cx="292.08" cy="313.2" r="2.8" fill="#ff0000"/>
<circle cx="305.24" cy="309.5" r="2.8" fill="#ff0000"/>
<circle cx="318.4" cy="305.8" r="2.8" fill="#ff0000"/>
<text x="50.5" y="439.18" font-size="13.9" text-anchor="end" fill="#262626" font-family='"Liberation Sans", sans-serif' >1490</text>
<text x="50.5" y="386.58" font-size="13.9" text-anchor="end" fill="#262626" font-family='"Liberation Sans", sans-serif' >1500</text>
<text x="50.5" y="333.98" font-size="13.9" text-anchor="end" fill="#262626" font-family='"Liberation Sans", sans-serif' >1510</text>
<text x="50.5" y="281.38" font-size="13.9" text-anchor="end" fill="#262626" font-family='"Liberation Sans", sans-serif' >1520</text>
<text x="54.9" y="452.5" font-size="13.9" text-anchor="middle" fill="#262626" font-family='"Liberation Sans", sans-serif' >1</text>
<text x="107.54" y="452.5" font-size="13.9" text-anchor="middle" fill="#262626" font-family='"Liberation Sans", sans-serif' >1.002</text>
<text x="160.18" y="452.5" font-size="13.9" text-anchor="middle" fill="#262626" font-family='"Liberation Sans", sans-serif' >1.004</text>
<text x="212.82" y="452.5" font-size="13.9" text-anchor="middle" fill="#262626" font-family='"Liberation Sans", sans-serif' >1.006</text>
<text x="265.46" y="452.5" font-size="13.9" text-anchor="middle" fill="#262626" font-family='"Liberation Sans", sans-serif' >1.008</text>
<text x="318.1" y="452.5" font-size="13.9" text-anchor="middle" fill="#262626" font-family='"Liberation Sans", sans-serif' >1.01</text>
<text x="0" y="0" font-size="15.9" text-anchor="middle" fill="#262626" font-family='"Liberation Sans", sans-serif' transform="translate(12.8,355.2) rotate(-90)">Wavelength (nm)</text>
<text x="186.8" y="472.2" font-size="15.6" text-anchor="middle" fill="#262626" font-family='"Liberation Sans", sans-serif' >Refractive index (n)</text>
<text x="126.3" y="379.1" font-size="12" text-anchor="start" fill="#262626" font-family='"Liberation Sans", sans-serif' >Slope =</text>
<path d="M172.2,377.3 C173.1,373.8 175.2,373.6 176.4,375.7 C177.6,377.8 179.8,377.9 180.7,374.4" fill="none" stroke="#555" stroke-width="1"/>
<text x="185.6" y="379.1" font-size="12" text-anchor="start" fill="#262626" font-family='"Liberation Sans", sans-serif' >1388 nm/RIU</text>
<line x1="238" y1="408.8" x2="257.8" y2="408.8" stroke="#3a3aff" stroke-width="1"/>
<text x="259.6" y="413.7" font-size="12.35" text-anchor="start" fill="#262626" font-family='"Liberation Sans", sans-serif' >linear fit</text>
<circle cx="247.8" cy="423.3" r="2.8" fill="#ff0000"/>
<text x="259.6" y="427.6" font-size="12.35" text-anchor="start" fill="#262626" font-family='"Liberation Sans", sans-serif' >simulation</text>
<text x="350.8" y="261.2" font-size="17.6" text-anchor="middle" fill="#262626" font-family='"Liberation Sans", sans-serif' >(d)</text>
<path d="M444.56,434 v-2.6 M444.56,276.4 v2.6" stroke="#7f7f7f" stroke-width="1" fill="none"/>
<path d="M497.72,434 v-2.6 M497.72,276.4 v2.6" stroke="#7f7f7f" stroke-width="1" fill="none"/>
<path d="M550.88,434 v-2.6 M550.88,276.4 v2.6" stroke="#7f7f7f" stroke-width="1" fill="none"/>
<path d="M604.04,434 v-2.6 M604.04,276.4 v2.6" stroke="#7f7f7f" stroke-width="1" fill="none"/>
<path d="M391.4,394.6 h2.6 M657.2,394.6 h-2.6" stroke="#7f7f7f" stroke-width="1" fill="none"/>
<path d="M391.4,355.2 h2.6 M657.2,355.2 h-2.6" stroke="#7f7f7f" stroke-width="1" fill="none"/>
<path d="M391.4,315.8 h2.6 M657.2,315.8 h-2.6" stroke="#7f7f7f" stroke-width="1" fill="none"/>
<rect x="391.4" y="276.4" width="265.8" height="157.6" fill="none" stroke="#7f7f7f" stroke-width="1"/>
<path d="M391.4,368.4 657.2,361.4" fill="none" stroke="#4d4dff" stroke-width="1.0" stroke-linejoin="round" />
<circle cx="391.4" cy="367.7" r="2.8" fill="#ff0000"/>
<circle cx="404.69" cy="368" r="2.8" fill="#ff0000"/>
<circle cx="417.98" cy="367.3" r="2.8" fill="#ff0000"/>
<circle cx="431.27" cy="367.3" r="2.8" fill="#ff0000"/>
<circle cx="444.56" cy="367.2" r="2.8" fill="#ff0000"/>
<circle cx="457.85" cy="366.6" r="2.8" fill="#ff0000"/>
<circle cx="471.14" cy="366.6" r="2.8" fill="#ff0000"/>
<circle cx="484.43" cy="366.5" r="2.8" fill="#ff0000"/>
<circle cx="497.72" cy="366.5" r="2.8" fill="#ff0000"/>
<circle cx="511.01" cy="365.6" r="2.8" fill="#ff0000"/>
<circle cx="524.3" cy="364.8" r="2.8" fill="#ff0000"/>
<circle cx="537.59" cy="364.2" r="2.8" fill="#ff0000"/>
<circle cx="550.88" cy="364" r="2.8" fill="#ff0000"/>
<circle cx="564.17" cy="363.4" r="2.8" fill="#ff0000"/>
<circle cx="577.46" cy="363.4" r="2.8" fill="#ff0000"/>
<circle cx="590.75" cy="363.2" r="2.8" fill="#ff0000"/>
<circle cx="604.04" cy="362.6" r="2.8" fill="#ff0000"/>
<circle cx="617.33" cy="362.6" r="2.8" fill="#ff0000"/>
<circle cx="630.62" cy="362.5" r="2.8" fill="#ff0000"/>
<circle cx="643.91" cy="361.5" r="2.8" fill="#ff0000"/>
<circle cx="657.2" cy="360.9" r="2.8" fill="#ff0000"/>
<text x="386.9" y="281.57" font-size="13.6" text-anchor="end" fill="#262626" font-family='"Liberation Sans", sans-serif' >0.8</text>
<text x="386.9" y="320.97" font-size="13.6" text-anchor="end" fill="#262626" font-family='"Liberation Sans", sans-serif' >0.75</text>
<text x="386.9" y="360.37" font-size="13.6" text-anchor="end" fill="#262626" font-family='"Liberation Sans", sans-serif' >0.7</text>
<text x="386.9" y="399.77" font-size="13.6" text-anchor="end" fill="#262626" font-family='"Liberation Sans", sans-serif' >0.65</text>
<text x="386.9" y="439.17" font-size="13.6" text-anchor="end" fill="#262626" font-family='"Liberation Sans", sans-serif' >0.6</text>
<text x="391.5" y="452" font-size="13.3" text-anchor="middle" fill="#262626" font-family='"Liberation Sans", sans-serif' >1</text>
<text x="444.66" y="452" font-size="13.3" text-anchor="middle" fill="#262626" font-family='"Liberation Sans", sans-serif' >1.002</text>
<text x="497.82" y="452" font-size="13.3" text-anchor="middle" fill="#262626" font-family='"Liberation Sans", sans-serif' >1.004</text>
<text x="550.98" y="452" font-size="13.3" text-anchor="middle" fill="#262626" font-family='"Liberation Sans", sans-serif' >1.006</text>
<text x="604.14" y="452" font-size="13.3" text-anchor="middle" fill="#262626" font-family='"Liberation Sans", sans-serif' >1.008</text>
<text x="657.3" y="452" font-size="13.3" text-anchor="middle" fill="#262626" font-family='"Liberation Sans", sans-serif' >1.01</text>
<text x="0" y="0" font-size="15.2" text-anchor="middle" fill="#262626" font-family='"Liberation Sans", sans-serif' transform="translate(354.9,355) rotate(-90)">FWHM (nm)</text>
<text x="524.4" y="470" font-size="15.1" text-anchor="middle" fill="#262626" font-family='"Liberation Sans", sans-serif' >Refractive index (n)</text>
<text x="396.2" y="387.5" font-size="12.6" text-anchor="start" fill="#262626" font-family='"Liberation Sans", sans-serif' >&#916;FWHM =9 pm</text>
<line x1="566" y1="401.5" x2="586.3" y2="401.5" stroke="#3a3aff" stroke-width="1"/>
<text x="587.6" y="406.2" font-size="12.35" text-anchor="start" fill="#262626" font-family='"Liberation Sans", sans-serif' >linear fit</text>
<circle cx="575.9" cy="416.3" r="2.8" fill="#ff0000"/>
<text x="587.6" y="420.3" font-size="12.35" text-anchor="start" fill="#262626" font-family='"Liberation Sans", sans-serif' >simulation</text>
</svg></body></html>
